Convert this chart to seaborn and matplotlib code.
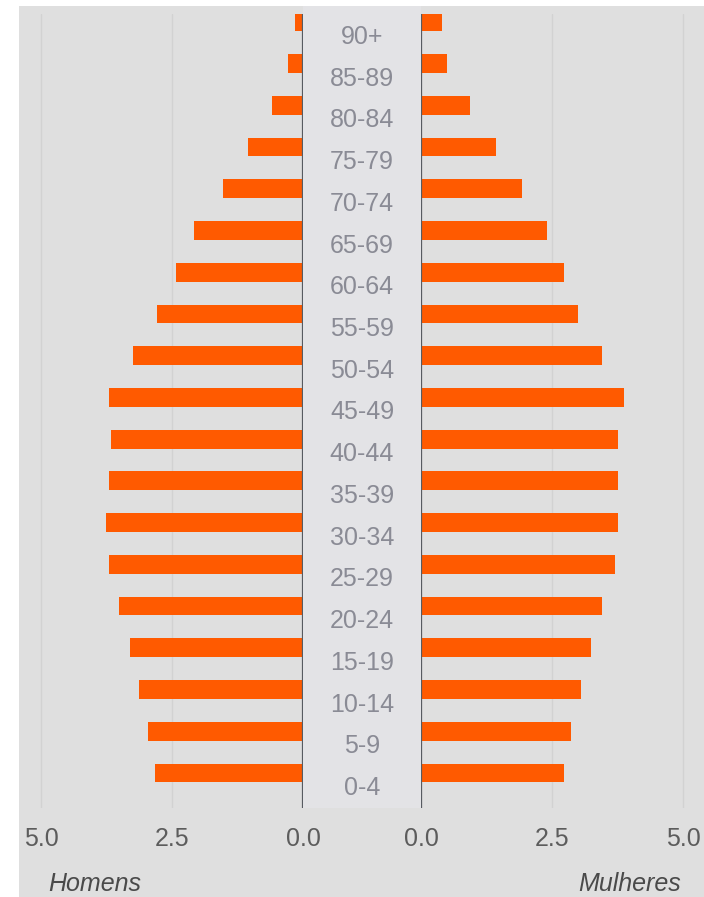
import matplotlib
matplotlib.use("Agg")
import matplotlib.pyplot as plt
import matplotlib.transforms as mtransforms
from matplotlib.patches import Rectangle
import seaborn as sns
import pandas as pd

# Population pyramid data (% of population by age group)
age_groups = ["90+", "85-89", "80-84", "75-79", "70-74", "65-69", "60-64",
              "55-59", "50-54", "45-49", "40-44", "35-39", "30-34", "25-29",
              "20-24", "15-19", "10-14", "5-9", "0-4"]
homens = [0.15, 0.29, 0.59, 1.05, 1.53, 2.08, 2.43, 2.79, 3.25, 3.70,
          3.66, 3.70, 3.76, 3.70, 3.51, 3.30, 3.13, 2.96, 2.82]
mulheres = [0.41, 0.50, 0.94, 1.43, 1.93, 2.41, 2.72, 2.99, 3.45, 3.88,
            3.75, 3.75, 3.75, 3.70, 3.45, 3.24, 3.05, 2.86, 2.72]
x_ticks = [0.0, 2.5, 5.0]
side_labels = ["Homens", "Mulheres"]

df = pd.DataFrame({"faixa": age_groups, "homens": homens, "mulheres": mulheres})

sns.set_style("white")
plt.rcParams["font.family"] = ["Liberation Sans", "DejaVu Sans"]

W, H = 704, 897
BG = "#dfdfdf"
ORANGE = "#ff5a00"
GRID = "#d2d2d2"
ZERO = "#575b61"

fig = plt.figure(figsize=(W / 100, H / 100), dpi=100, facecolor="white")

# grey panel behind everything
fig.patches.append(Rectangle((19 / W, 0), (W - 19) / W, (H - 6) / H,
                             transform=fig.transFigure, facecolor=BG,
                             edgecolor="none", zorder=-10))
# slightly lighter column holding the age labels
fig.patches.append(Rectangle((303 / W, (H - 808) / H), 118 / W, (808 - 6) / H,
                             transform=fig.transFigure, facecolor="#e3e3e6",
                             edgecolor="none", zorder=-9))

px_per_unit = 52.4
xmax = 5.2
ax_w = xmax * px_per_unit
ax_bottom = (H - 808) / H
ax_h = 794 / H

axL = fig.add_axes([(303 - ax_w) / W, ax_bottom, ax_w / W, ax_h])
axR = fig.add_axes([421 / W, ax_bottom, ax_w / W, ax_h])

for ax, col in ((axL, "homens"), (axR, "mulheres")):
    ax.set_facecolor("none")
    sns.barplot(data=df, y="faixa", x=col, order=age_groups, orient="h",
                color=ORANGE, saturation=1, width=0.45, linewidth=0, ax=ax)
    ax.set_ylim(len(age_groups) - 1 + 0.84, -0.19)
    ax.set_yticks([])
    ax.set_xlabel("")
    ax.set_ylabel("")
    ax.set_xticks(x_ticks)
    ax.set_xticklabels([f"{t:.1f}" for t in x_ticks])
    ax.tick_params(axis="x", length=0, pad=14, labelsize=18, labelcolor="#5c5c5c")
    ax.set_axisbelow(True)
    ax.xaxis.grid(True, color=GRID, linewidth=1.0)
    ax.yaxis.grid(False)
    for s in ax.spines.values():
        s.set_visible(False)
    ax.axvline(0, color=ZERO, linewidth=1.6, zorder=5)

axL.set_xlim(xmax, 0)
axR.set_xlim(0, xmax)

# age group labels in the centre column
trans = mtransforms.blended_transform_factory(fig.transFigure, axL.transData)
for i, lab in enumerate(age_groups):
    axL.text(362 / W, i + 0.36, lab, transform=trans, ha="center", va="center",
             fontsize=18, color="#8a8b95", clip_on=False)

fig.text(95 / W, 1 - 884 / H, side_labels[0], style="italic", ha="center",
         va="center", fontsize=18, color="#4a4a4a")
fig.text(630 / W, 1 - 884 / H, side_labels[1], style="italic", ha="center",
         va="center", fontsize=18, color="#4a4a4a")

fig.savefig("out.png", dpi=100, facecolor="white")
